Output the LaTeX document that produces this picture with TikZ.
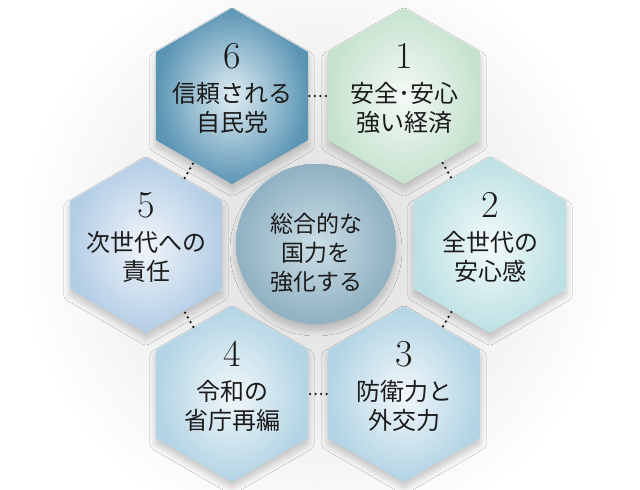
\documentclass[tikz,border=0pt]{standalone}
\usepackage{fontspec}
\newfontfamily\jpfont{Noto Sans CJK JP}
\usetikzlibrary{shapes.geometric,shadows.blur}
\definecolor{ink}{HTML}{1B1B1B}
\definecolor{sixout}{HTML}{5B95B4}
\definecolor{sixin}{HTML}{E0EDF3}
\definecolor{oneout}{HTML}{C6E2CF}
\definecolor{onein}{HTML}{F4FAF6}
\definecolor{twoout}{HTML}{BCE0E3}
\definecolor{twoin}{HTML}{F3FAFA}
\definecolor{lowout}{HTML}{B2D4E4}
\definecolor{lowin}{HTML}{F1F7FA}
\definecolor{fiveout}{HTML}{B3CDE5}
\definecolor{fivein}{HTML}{F1F5FA}
\definecolor{coreout}{HTML}{8FB1C2}
\definecolor{corein}{HTML}{CCDDE5}

\begin{document}
\begin{tikzpicture}[x=1pt, y=-1pt,
	hexa/.style={regular polygon, regular polygon sides=6, shape border rotate=30, minimum size=176pt, inner sep=0pt, outer sep=0pt, shading=radial, blur shadow={shadow blur steps=10, shadow xshift=0pt, shadow yshift=-6pt, shadow blur radius=6pt, shadow opacity=20}},
	num/.style={font=\fontsize{38}{38}\selectfont, text=ink},
	txt/.style={font=\jpfont\fontsize{24}{29}\selectfont, align=center, text=ink},
	link/.style={draw=ink, line width=2.6pt, line cap=round, dash pattern=on 0pt off 5.5pt, shorten <=1.2pt, shorten >=1.2pt}]
	\fill[white] (0,0) rectangle (640,490);
	\useasboundingbox (0,0) rectangle (640,490);
	\shade[inner color=black!14, outer color=white] (318,245) circle (300);
	\node[hexa, inner color=sixin, outer color=sixout] (h6) at (232,96) {};
	\node[hexa, inner color=onein, outer color=oneout] (h1) at (404,96) {};
	\node[hexa, inner color=twoin, outer color=twoout] (h2) at (490,245) {};
	\node[hexa, inner color=lowin, outer color=lowout] (h3) at (404,394) {};
	\node[hexa, inner color=lowin, outer color=lowout] (h4) at (232,394) {};
	\node[hexa, inner color=fivein, outer color=fiveout] (h5) at (146,245) {};
	\node[circle, minimum size=160pt, inner sep=0pt, shading=radial, inner color=corein, outer color=coreout, blur shadow={shadow blur steps=10, shadow xshift=0pt, shadow yshift=-6pt, shadow blur radius=6pt, shadow opacity=20}] (core) at (316,244) {};
	\node[num] (n1) at ([yshift=40pt]h1) {1};
	\node[num] (n2) at ([yshift=40pt]h2) {2};
	\node[num] (n3) at ([yshift=40pt]h3) {3};
	\node[num] (n4) at ([yshift=40pt]h4) {4};
	\node[num] (n5) at ([yshift=40pt]h5) {5};
	\node[num] (n6) at ([yshift=40pt]h6) {6};
	\node[txt] (t1) at ([yshift=-12pt]h1) {安全･安心\\強い経済};
	\node[txt] (t2) at ([yshift=-12pt]h2) {全世代の\\安心感};
	\node[txt] (t3) at ([yshift=-12pt]h3) {防衛力と\\外交力};
	\node[txt] (t4) at ([yshift=-12pt]h4) {令和の\\省庁再編};
	\node[txt] (t5) at ([yshift=-12pt]h5) {次世代への\\責任};
	\node[txt] (t6) at ([yshift=-12pt]h6) {信頼される\\自民党};
	\node[txt, font=\jpfont\fontsize{23}{29}\selectfont] (tc) at ([yshift=-9pt]core) {総合的な\\国力を\\強化する};
	\draw[link] (h6) -- (h1);
	\draw[link] (h1) -- (h2);
	\draw[link] (h2) -- (h3);
	\draw[link] (h3) -- (h4);
	\draw[link] (h4) -- (h5);
	\draw[link] (h5) -- (h6);
\end{tikzpicture}
\end{document}
